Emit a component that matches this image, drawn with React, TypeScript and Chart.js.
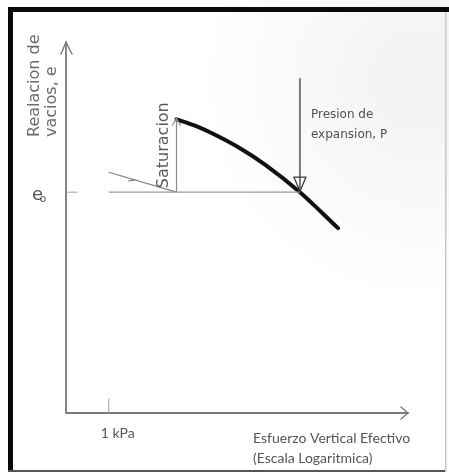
import React, { useEffect, useRef } from "react";
import { Chart, registerables } from "chart.js";

Chart.register(...registerables);

// Effective vertical stress axis (kPa, logarithmic) and void ratio axis
const stressRange = [0.5, 128];
const voidRange = [0, 1.68];
const kpaTick = 1;
const e0 = 1.0;

// Initial unsaturated path and the e0 reference line
const initialStress = [1.0, 3.0];
const initialVoid = [1.09, 1.0];
const baselineStress = [1.0, 22.2];

// Swelling on saturation
const saturationStress = 3.0;
const saturationVoid = [1.0, 1.335];

// Loading curve after saturation
const curveStress = [3.0, 4.05, 5.6, 8.4, 12.6, 22.2, 41.2];
const curveVoid = [1.33, 1.301, 1.26, 1.199, 1.125, 1.0, 0.837];

// Swelling pressure marker
const swellPressure = 22.2;
const swellArrowVoid = [1.516, 1.0];

const SANS = "'DejaVu Sans', Verdana, sans-serif";
const NARROW = "Lato, 'Liberation Sans', sans-serif";

const pairs = (xs: number[], ys: number[]) => xs.map((x, i) => ({ x, y: ys[i] }));

const diagramPlugin = {
  id: "diagram",
  beforeDraw(chart: any) {
    const { ctx, width, height } = chart;
    ctx.save();
    ctx.fillStyle = "#ffffff";
    ctx.fillRect(0, 0, width, height);
    // faint shading in the upper right
    const g = ctx.createRadialGradient(420, 80, 10, 420, 80, 220);
    g.addColorStop(0, "rgba(0,0,0,0.05)");
    g.addColorStop(1, "rgba(0,0,0,0)");
    ctx.fillStyle = g;
    ctx.fillRect(0, 0, width, height);
    // frame
    ctx.fillStyle = "#0a0a0a";
    ctx.fillRect(8, 7, width - 8, 5);
    ctx.fillRect(8, 7, 5, 465);
    ctx.fillStyle = "#555";
    ctx.fillRect(8, 470, 438, 2);
    ctx.fillStyle = "#c8c8c8";
    ctx.fillRect(445, 12, 1.5, 460);
    ctx.restore();
  },
  beforeDatasetsDraw(chart: any) {
    const { ctx } = chart;
    const xs = chart.scales.x;
    const ys = chart.scales.y;
    const x0 = xs.getPixelForValue(stressRange[0]);
    const xEnd = xs.getPixelForValue(stressRange[1]);
    const yBottom = ys.getPixelForValue(voidRange[0]);
    const yTop = ys.getPixelForValue(voidRange[1]);
    ctx.save();
    ctx.strokeStyle = "#7a7a7a";
    ctx.lineWidth = 1.8;
    ctx.lineCap = "round";
    ctx.lineJoin = "round";
    // axes
    ctx.beginPath();
    ctx.moveTo(x0, yBottom);
    ctx.lineTo(x0, yTop);
    ctx.moveTo(x0, yBottom);
    ctx.lineTo(xEnd, yBottom);
    ctx.stroke();
    ctx.lineWidth = 1.4;
    ctx.beginPath();
    ctx.moveTo(x0 - 5, yTop + 12);
    ctx.lineTo(x0, yTop);
    ctx.lineTo(x0 + 6, yTop + 12);
    ctx.moveTo(xEnd - 7, yBottom - 6);
    ctx.lineTo(xEnd, yBottom);
    ctx.lineTo(xEnd - 7, yBottom + 6);
    ctx.stroke();
    // 1 kPa tick and e0 tick
    const tx = xs.getPixelForValue(kpaTick);
    const ey = ys.getPixelForValue(e0);
    ctx.strokeStyle = "#a0a0a0";
    ctx.lineWidth = 1;
    ctx.beginPath();
    ctx.moveTo(tx, yBottom - 14);
    ctx.lineTo(tx, yBottom);
    ctx.moveTo(x0, ey);
    ctx.lineTo(x0 + 11, ey);
    ctx.stroke();
    ctx.restore();
  },
  afterDatasetsDraw(chart: any) {
    const { ctx } = chart;
    const xs = chart.scales.x;
    const ys = chart.scales.y;
    const x0 = xs.getPixelForValue(stressRange[0]);
    const yBottom = ys.getPixelForValue(voidRange[0]);
    const yTop = ys.getPixelForValue(voidRange[1]);
    const ey = ys.getPixelForValue(e0);
    ctx.save();
    ctx.lineCap = "round";
    ctx.lineJoin = "round";

    // arrow head on the saturation line
    const sx = xs.getPixelForValue(saturationStress);
    const sy = ys.getPixelForValue(saturationVoid[1]);
    ctx.strokeStyle = "#8a8a8a";
    ctx.lineWidth = 1.2;
    ctx.beginPath();
    ctx.moveTo(sx - 4, sy + 7);
    ctx.lineTo(sx, sy);
    ctx.lineTo(sx + 4, sy + 7);
    ctx.stroke();

    // small direction mark on the initial path
    const ax = xs.getPixelForValue(initialStress[0]);
    const ay = ys.getPixelForValue(initialVoid[0]);
    const bx = xs.getPixelForValue(initialStress[1]);
    const by = ys.getPixelForValue(initialVoid[1]);
    const len = Math.hypot(bx - ax, by - ay);
    const ux = (bx - ax) / len;
    const uy = (by - ay) / len;
    const mx = ax + ux * len * 0.38;
    const my = ay + uy * len * 0.38;
    ctx.strokeStyle = "#777";
    ctx.beginPath();
    ctx.moveTo(mx - ux * 5 - uy * 2.5, my - uy * 5 + ux * 2.5);
    ctx.lineTo(mx, my);
    ctx.stroke();

    // hollow arrow head of the swelling pressure marker
    const px = xs.getPixelForValue(swellPressure);
    const py = ys.getPixelForValue(swellArrowVoid[1]);
    ctx.strokeStyle = "#3a3a3a";
    ctx.lineWidth = 1.3;
    ctx.beginPath();
    ctx.moveTo(px - 6, py - 15);
    ctx.lineTo(px + 6, py - 15);
    ctx.lineTo(px, py - 1);
    ctx.closePath();
    ctx.stroke();

    // texts
    ctx.fillStyle = "#6a6a6a";
    ctx.textBaseline = "middle";
    ctx.textAlign = "left";
    ctx.font = `16px ${SANS}`;
    const rotated = (text: string, x: number, y: number) => {
      ctx.save();
      ctx.translate(x, y);
      ctx.rotate(-Math.PI / 2);
      ctx.fillText(text, 0, 0);
      ctx.restore();
    };
    rotated("Realacion de", x0 - 31, yTop + 95);
    rotated("vacios, e", x0 - 14, yTop + 95);
    ctx.fillStyle = "#5a5a5a";
    rotated("Saturacion", sx - 13, ey - 4);

    ctx.fillStyle = "#505050";
    ctx.font = `12px ${SANS}`;
    ctx.fillText("Presion de", px + 11, ys.getPixelForValue(swellArrowVoid[0]) + 37);
    ctx.fillText("expansion, P", px + 11, ys.getPixelForValue(swellArrowVoid[0]) + 57);

    ctx.fillStyle = "#555";
    ctx.font = `18px ${SANS}`;
    ctx.textBaseline = "alphabetic";
    ctx.fillText("e", x0 - 34, ey + 8);
    ctx.font = `11px ${SANS}`;
    ctx.fillText("o", x0 - 26.5, ey + 9.5);

    ctx.fillStyle = "#555";
    ctx.textBaseline = "middle";
    ctx.font = `14px ${NARROW}`;
    ctx.fillText("1 kPa", xs.getPixelForValue(kpaTick) - 8, yBottom + 20);
    ctx.fillText("Esfuerzo Vertical Efectivo", 253, yBottom + 25);
    ctx.fillText("(Escala Logaritmica)", 253, yBottom + 45);
    ctx.restore();
  },
};

export default function App() {
  const canvasRef = useRef<HTMLCanvasElement | null>(null);

  useEffect(() => {
    const canvas = canvasRef.current;
    if (!canvas) return;
    const chart = new Chart(canvas, {
      type: "line",
      data: {
        datasets: [
          {
            data: pairs(baselineStress, [e0, e0]),
            borderColor: "#9a9a9a",
            borderWidth: 1.2,
            pointRadius: 0,
          },
          {
            data: pairs(initialStress, initialVoid),
            borderColor: "#808080",
            borderWidth: 1.2,
            pointRadius: 0,
          },
          {
            data: pairs([saturationStress, saturationStress], saturationVoid),
            borderColor: "#8a8a8a",
            borderWidth: 1.2,
            pointRadius: 0,
          },
          {
            data: pairs([swellPressure, swellPressure], swellArrowVoid),
            borderColor: "#3a3a3a",
            borderWidth: 1.3,
            pointRadius: 0,
          },
          {
            data: pairs(curveStress, curveVoid),
            borderColor: "#111111",
            borderWidth: 4,
            pointRadius: 0,
            cubicInterpolationMode: "monotone",
            borderCapStyle: "round",
            borderJoinStyle: "round",
          },
        ],
      },
      options: {
        responsive: false,
        animation: false,
        events: [],
        layout: { padding: { left: 66, right: 41, top: 42, bottom: 62 } },
        plugins: {
          legend: { display: false },
          tooltip: { enabled: false },
          title: { display: false },
        },
        scales: {
          x: {
            type: "logarithmic",
            display: false,
            min: stressRange[0],
            max: stressRange[1],
          },
          y: {
            type: "linear",
            display: false,
            min: voidRange[0],
            max: voidRange[1],
          },
        },
      },
      plugins: [diagramPlugin],
    });
    return () => chart.destroy();
  }, []);

  return (
    <div style={{ position: "absolute", left: 0, top: 0, width: 449, height: 475 }}>
      <canvas ref={canvasRef} width={449} height={475} />
    </div>
  );
}
